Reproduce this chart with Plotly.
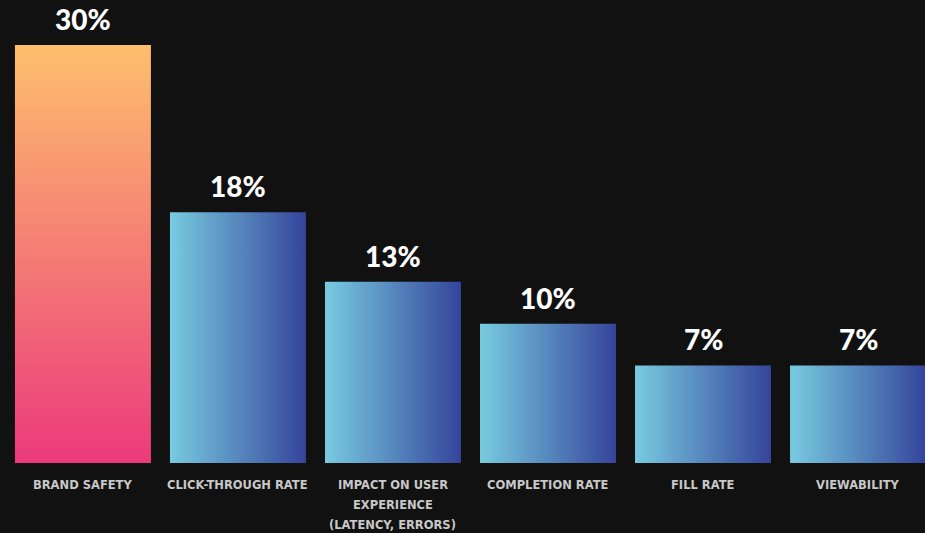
import plotly.graph_objects as go

categories = ["BRAND SAFETY", "CLICK-THROUGH RATE", "IMPACT ON USER<br>EXPERIENCE<br>(LATENCY, ERRORS)",
              "COMPLETION RATE", "FILL RATE", "VIEWABILITY"]
values = [30, 18, 13, 10, 7, 7]
value_labels = ["30%", "18%", "13%", "10%", "7%", "7%"]

bar_w = 0.877
warm = [[0, "#ec3a7c"], [1, "#fdbf6d"]]
cool = [[0, "#78cbe0"], [1, "#35449b"]]

fig = go.Figure()

for i, (cat, v) in enumerate(zip(categories, values)):
    x0, x1 = i - bar_w / 2, i + bar_w / 2
    if i == 0:
        grad = dict(type="vertical", colorscale=warm)
    else:
        grad = dict(type="horizontal", colorscale=cool)
    fig.add_trace(go.Scatter(
        x=[x0, x1, x1, x0, x0], y=[0, 0, v, v, 0],
        mode="lines", line=dict(width=0), fill="toself",
        fillgradient=grad, hoverinfo="skip", showlegend=False))

    fig.add_annotation(x=i, y=v, text=value_labels[i], showarrow=False,
                       yanchor="bottom", yshift=7,
                       font=dict(family="Lato", size=28, color="white", weight=900))

    for k, line in enumerate(cat.split("<br>")):
        fig.add_annotation(x=i, y=0, text=line, showarrow=False,
                           yanchor="top", yshift=-13 - 20 * k,
                           font=dict(family="DejaVu Sans", size=11.5, color="#c8c8c8", weight=600))

fig.update_layout(
    width=925, height=533,
    paper_bgcolor="#111111", plot_bgcolor="#111111",
    margin=dict(l=0, r=0, t=0, b=70),
    xaxis=dict(range=[-0.535, 5.432], visible=False, fixedrange=True),
    yaxis=dict(range=[0, 33.23], visible=False, fixedrange=True),
)

fig.write_html("out.html", config={"displayModeBar": False},
               post_script="document.body.style.margin='0';document.body.style.background='#111111';")
